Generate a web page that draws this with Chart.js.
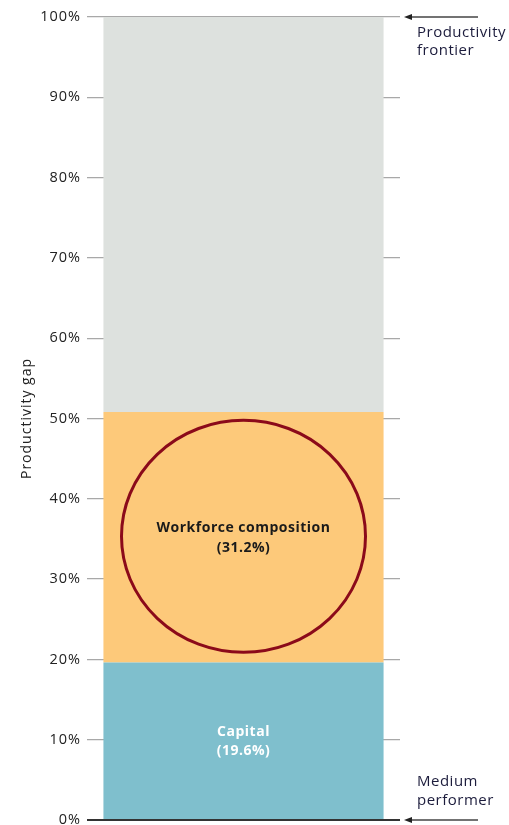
<!DOCTYPE html>
<html>
<head>
<meta charset="utf-8">
<script src="https://cdn.jsdelivr.net/npm/chart.js@4"></script>
<style>
  html, body { margin: 0; padding: 0; background: #fff; }
  #wrap { width: 509px; height: 825px; }
</style>
</head>
<body>
<div id="wrap"><canvas id="chart"></canvas></div>
<script>
// data
const categories = ['Gap'];
const segmentNames = ['Capital', 'Workforce composition', 'Remaining gap'];
const capital = [19.6];
const workforce = [31.2];
const remaining = [49.2];
const yTicks = [0, 10, 20, 30, 40, 50, 60, 70, 80, 90, 100];

const FONT = "'Open Sans', sans-serif";

// wider text, closer to the original typeface
const spacing = {
  id: 'spacing',
  beforeUpdate(chart) { chart.ctx.letterSpacing = '1px'; },
  beforeDraw(chart) { chart.ctx.letterSpacing = '1px'; }
};

// labels in the bars, circle and the two arrows on the right
const annotations = {
  id: 'annotations',
  afterDatasetsDraw(chart) {
    const c = chart.ctx;
    const y = chart.scales.y;
    c.save();
    c.textAlign = 'center';
    c.textBaseline = 'middle';
    c.letterSpacing = '0.5px';

    // capital label
    const capBar = chart.getDatasetMeta(0).data[0];
    const capY = (capBar.y + capBar.base) / 2;
    c.fillStyle = '#ffffff';
    c.font = 'bold 14px ' + FONT;
    c.fillText('Capital', capBar.x, capY - 9);
    c.fillText('(' + capital[0] + '%)', capBar.x, capY + 10);

    // workforce label + circle
    const wfBar = chart.getDatasetMeta(1).data[0];
    const wfY = (wfBar.y + wfBar.base) / 2;
    c.fillStyle = '#1a1a1a';
    c.fillText('Workforce composition', wfBar.x, wfY - 9);
    c.fillText('(' + workforce[0] + '%)', wfBar.x, wfY + 11);
    c.beginPath();
    c.ellipse(wfBar.x, wfY - 1, 122, 116, 0, 0, Math.PI * 2);
    c.strokeStyle = '#8b0a1a';
    c.lineWidth = 3;
    c.stroke();

    // arrows
    const arrow = (py) => {
      c.beginPath();
      c.moveTo(478, py);
      c.lineTo(410, py);
      c.strokeStyle = '#444';
      c.lineWidth = 1.5;
      c.stroke();
      c.beginPath();
      c.moveTo(404, py);
      c.lineTo(412, py - 3);
      c.lineTo(412, py + 3);
      c.closePath();
      c.fillStyle = '#222';
      c.fill();
    };
    const topY = y.getPixelForValue(100);
    const botY = y.getPixelForValue(0);
    arrow(topY);
    arrow(botY);

    c.textAlign = 'left';
    c.fillStyle = '#1c1c3c';
    c.font = '15px ' + FONT;
    c.fillText('Productivity', 417, topY + 16);
    c.fillText('frontier', 417, topY + 34);
    c.fillText('Medium', 417, botY - 38);
    c.fillText('performer', 417, botY - 19);
    c.restore();
  }
};

const ctx = document.getElementById('chart').getContext('2d');
const gapChart = new Chart(ctx, {
  type: 'bar',
  data: {
    labels: categories,
    datasets: [
      { label: segmentNames[0], data: capital, backgroundColor: '#7fbfcd' },
      { label: segmentNames[1], data: workforce, backgroundColor: '#fdc97a' },
      { label: segmentNames[2], data: remaining, backgroundColor: '#dde1de' }
    ]
  },
  options: {
    responsive: true,
    maintainAspectRatio: false,
    animation: false,
    layout: { padding: { top: 17, right: 109, bottom: 5, left: 0 } },
    plugins: {
      legend: { display: false },
      tooltip: { enabled: false }
    },
    datasets: {
      bar: { barPercentage: 0.895, categoryPercentage: 1.0, borderWidth: 0 }
    },
    scales: {
      x: { display: false, stacked: true },
      y: {
        stacked: true,
        min: 0,
        max: 100,
        afterBuildTicks: (scale) => { scale.ticks = yTicks.map(v => ({ value: v })); },
        afterFit: (scale) => {
          scale.width = 87;
          scale.paddingTop = 0;
          scale.paddingBottom = 0;
        },
        border: { display: false },
        grid: {
          drawTicks: false,
          color: (c) => c.tick && c.tick.value === 0 ? '#333' : '#a8a8a8',
          lineWidth: (c) => c.tick && c.tick.value === 0 ? 2 : 1.2
        },
        ticks: {
          padding: 6,
          color: '#222',
          font: { family: FONT, size: 14.5 },
          callback: (v) => v + '%'
        },
        title: {
          display: true,
          text: 'Productivity gap',
          color: '#222',
          font: { family: FONT, size: 14 },
          padding: { top: 19 }
        }
      }
    }
  },
  plugins: [spacing, annotations]
});
</script>
</body>
</html>
